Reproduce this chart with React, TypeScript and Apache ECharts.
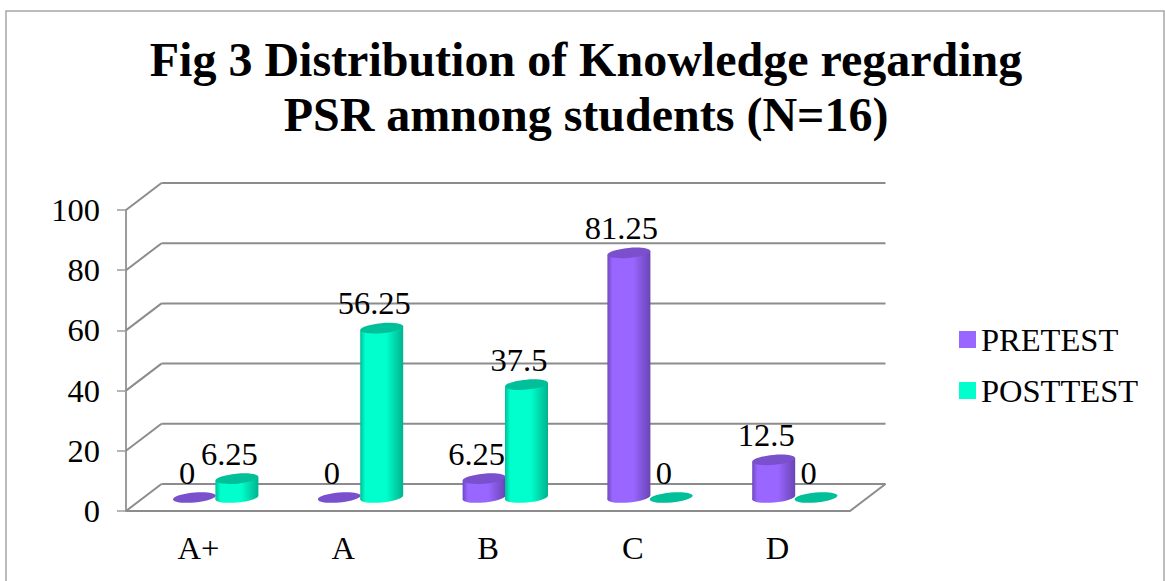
import React, { useEffect, useRef } from "react";
import * as echarts from "echarts";

const categories = ["A+", "A", "B", "C", "D"];
const pretest = [0, 0, 6.25, 81.25, 12.5];
const posttest = [6.25, 56.25, 37.5, 0, 0];
const yTicks = [0, 20, 40, 60, 80, 100];

const FONT = '"Liberation Serif", "Times New Roman", serif';
const GRID_COLOR = "#8C8C8C";
const AXIS_COLOR = "#9C9C9C";
const TEXT_SIZE = 32.5;
const DEPTH_X = 35.5;
const DEPTH_Y = 27;
const RX = 21.5;
const RY = 5;
const TILT = 0.09;

function gradient(edgeL: string, mid: string, edgeR: string) {
  return new echarts.graphic.LinearGradient(0, 0, 1, 0, [
    { offset: 0, color: edgeL },
    { offset: 0.12, color: mid },
    { offset: 0.6, color: mid },
    { offset: 1, color: edgeR },
  ]);
}

function cylinderSeries(
  name: string,
  values: number[],
  offsetX: number,
  edgeL: string,
  mid: string,
  edgeR: string,
  cap: string,
) {
  return {
    name,
    type: "custom",
    clip: false,
    silent: true,
    z: 3,
    itemStyle: { color: mid },
    data: values.map((v, i) => [i, v]),
    encode: { x: 0, y: 1 },
    renderItem: (_p: any, api: any) => {
      const i = api.value(0);
      const v = api.value(1);
      const base = api.coord([i, 0]);
      const top = api.coord([i, v]);
      const cx = base[0] + offsetX;
      const by = base[1] - DEPTH_Y / 2;
      const ty = top[1] - DEPTH_Y / 2;
      const dy = RX * Math.sin(TILT);
      const fill = gradient(edgeL, mid, edgeR);
      const children: any[] = [];
      if (v > 0) {
        children.push({
          type: "ellipse",
          x: cx,
          y: by,
          rotation: TILT,
          shape: { cx: 0, cy: 0, rx: RX, ry: RY },
          style: { fill },
        });
        children.push({
          type: "polygon",
          shape: {
            points: [
              [cx - RX, ty + dy],
              [cx + RX, ty - dy],
              [cx + RX, by - dy],
              [cx - RX, by + dy],
            ],
          },
          style: { fill },
        });
      }
      children.push({
        type: "ellipse",
        x: cx,
        y: ty,
        rotation: TILT,
        shape: { cx: 0, cy: 0, rx: RX, ry: RY },
        style: { fill: cap },
      });
      children.push({
        type: "text",
        x: cx - 7.5,
        y: ty - 25,
        z2: 20,
        style: {
          text: String(v),
          fill: "#000",
          fontSize: TEXT_SIZE,
          fontFamily: FONT,
          align: "center",
          verticalAlign: "middle",
        },
      });
      return { type: "group", children };
    },
  };
}

export default function App() {
  const ref = useRef<HTMLDivElement>(null);
  useEffect(() => {
    document.body.style.margin = "0";
    const chart = echarts.init(ref.current!, null, { renderer: "svg" });
    chart.setOption({
      animation: false,
      backgroundColor: "#fff",
      title: {
        text: "Fig 3 Distribution of Knowledge regarding\nPSR amnong students (N=16)",
        left: 581,
        top: 27,
        textAlign: "center",
        textStyle: {
          fontFamily: FONT,
          fontWeight: "bold",
          fontSize: 48,
          lineHeight: 55,
          color: "#000",
        },
      },
      legend: {
        orient: "vertical",
        left: 954,
        top: 318,
        data: ["PRETEST", "POSTTEST"],
        icon: "rect",
        itemWidth: 17,
        itemHeight: 17,
        itemGap: 18,
        selectedMode: false,
        textStyle: { fontFamily: FONT, fontSize: TEXT_SIZE, color: "#000" },
      },
      grid: { left: 126, top: 210, width: 724, height: 301 },
      xAxis: {
        type: "category",
        data: categories,
        axisLine: { lineStyle: { color: GRID_COLOR, width: 2 } },
        axisTick: { length: 9, lineStyle: { color: AXIS_COLOR, width: 1.5 } },
        axisLabel: { fontFamily: FONT, fontSize: TEXT_SIZE, color: "#000", margin: 20 },
      },
      yAxis: {
        type: "value",
        min: 0,
        max: 100,
        interval: 20,
        splitLine: { show: false },
        axisLine: { show: true, lineStyle: { color: AXIS_COLOR, width: 2 } },
        axisTick: { show: true, length: 9, lineStyle: { color: AXIS_COLOR, width: 1.5 } },
        axisLabel: { fontFamily: FONT, fontSize: TEXT_SIZE, color: "#000", margin: 26 },
      },
      graphic: [
        {
          type: "rect",
          silent: true,
          shape: { x: 6, y: 11, width: 1158, height: 600 },
          style: { fill: "none", stroke: "#A6A6A6", lineWidth: 1.5 },
        },
      ],
      series: [
        {
          name: "walls",
          type: "custom",
          clip: false,
          silent: true,
          z: 1,
          data: yTicks.map((t) => [0, t]),
          encode: { x: 0, y: 1 },
          renderItem: (p: any, api: any) => {
            const t = api.value(1);
            const y = api.coord([0, t])[1];
            const sys = p.coordSys;
            const x0 = sys.x;
            const x1 = sys.x + sys.width;
            const line = (a: number, b: number, c: number, d: number) => ({
              type: "line",
              shape: { x1: a, y1: b, x2: c, y2: d },
              style: { stroke: GRID_COLOR, lineWidth: 2 },
            });
            const children = [
              line(x0, y, x0 + DEPTH_X, y - DEPTH_Y),
              line(x0 + DEPTH_X, y - DEPTH_Y, x1 + DEPTH_X, y - DEPTH_Y),
            ];
            if (t === 0) children.push(line(x1, y, x1 + DEPTH_X, y - DEPTH_Y));
            return { type: "group", children };
          },
        },
        cylinderSeries("PRETEST", pretest, -3.9, "#6F48BF", "#9966FF", "#6A45B5", "#7A50CC"),
        cylinderSeries("POSTTEST", posttest, 38.5, "#00BF99", "#00FFCC", "#00B38F", "#00BF99"),
      ],
    });
    return () => chart.dispose();
  }, []);
  return <div ref={ref} style={{ position: "absolute", left: 0, top: 0, width: 1165, height: 581, overflow: "hidden" }} />;
}
